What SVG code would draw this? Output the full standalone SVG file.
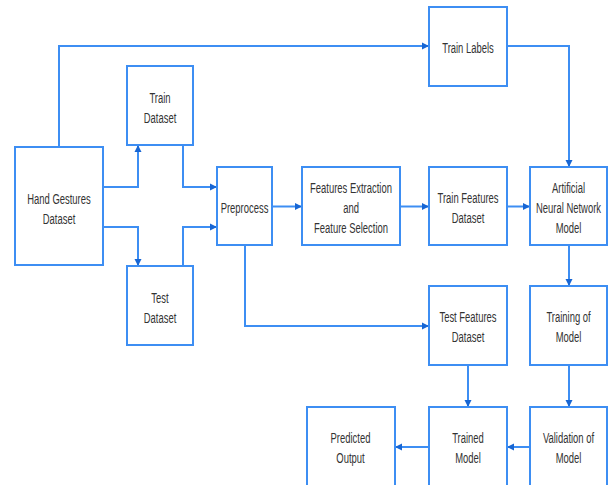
<svg xmlns="http://www.w3.org/2000/svg" width="611" height="485" viewBox="0 0 611 485">
<style>
.box{fill:#fff;stroke:#3d8ef3;stroke-width:2}
.lbl{font-family:"Liberation Sans",Arial,sans-serif;font-size:15px;fill:#333;text-anchor:middle}
.conn{fill:none;stroke:#3d8ef3;stroke-width:2;marker-end:url(#ah)}
</style>
<defs>
<marker id="ah" markerUnits="userSpaceOnUse" markerWidth="8" markerHeight="8" viewBox="0 0 8 8" refX="7" refY="4" orient="auto">
<path d="M0,0.5 L7,4 L0,7.5 Z" fill="#1766d4"/>
</marker>
</defs>
<rect width="611" height="485" fill="#fff"/>
<g id="connectors">
<path class="conn" d="M59,147 V46 H429"/>
<path class="conn" d="M103,187 H138 V145"/>
<path class="conn" d="M103,227 H138 V266"/>
<path class="conn" d="M183,145 V187 H217"/>
<path class="conn" d="M183,266 V227 H217"/>
<path class="conn" d="M272,206.5 H302"/>
<path class="conn" d="M245,245 V326 H429"/>
<path class="conn" d="M400,206.5 H429"/>
<path class="conn" d="M507,206.5 H530"/>
<path class="conn" d="M507,46 H569 V167"/>
<path class="conn" d="M569,245 V286"/>
<path class="conn" d="M569,365 V407"/>
<path class="conn" d="M468,365 V407"/>
<path class="conn" d="M530,447 H507"/>
<path class="conn" d="M429,447 H395"/>
</g>
<g id="hand-gestures">
<rect class="box" x="15" y="147" width="88" height="118"/>
<text class="lbl" transform="translate(59 204) scale(0.63 1)">Hand Gestures</text>
<text class="lbl" transform="translate(59 223.5) scale(0.63 1)">Dataset</text>
</g>
<g id="train-dataset">
<rect class="box" x="127" y="66" width="66" height="79"/>
<text class="lbl" transform="translate(160 102.5) scale(0.63 1)">Train</text>
<text class="lbl" transform="translate(160 122.5) scale(0.63 1)">Dataset</text>
</g>
<g id="test-dataset">
<rect class="box" x="127" y="266" width="66" height="79"/>
<text class="lbl" transform="translate(160 302.5) scale(0.63 1)">Test</text>
<text class="lbl" transform="translate(160 322.5) scale(0.63 1)">Dataset</text>
</g>
<g id="preprocess">
<rect class="box" x="217" y="167" width="55" height="78"/>
<text class="lbl" transform="translate(244.5 213) scale(0.63 1)">Preprocess</text>
</g>
<g id="features-extraction">
<rect class="box" x="302" y="167" width="98" height="78"/>
<text class="lbl" transform="translate(351 193) scale(0.63 1)">Features Extraction</text>
<text class="lbl" transform="translate(351 213) scale(0.63 1)">and</text>
<text class="lbl" transform="translate(351 233) scale(0.63 1)">Feature Selection</text>
</g>
<g id="train-labels">
<rect class="box" x="429" y="7" width="78" height="79"/>
<text class="lbl" transform="translate(468 53) scale(0.63 1)">Train Labels</text>
</g>
<g id="train-features">
<rect class="box" x="429" y="167" width="78" height="78"/>
<text class="lbl" transform="translate(468 203) scale(0.63 1)">Train Features</text>
<text class="lbl" transform="translate(468 223) scale(0.63 1)">Dataset</text>
</g>
<g id="ann-model">
<rect class="box" x="530" y="167" width="77" height="78"/>
<text class="lbl" transform="translate(568.5 193) scale(0.63 1)">Artificial</text>
<text class="lbl" transform="translate(568.5 213) scale(0.63 1)">Neural Network</text>
<text class="lbl" transform="translate(568.5 233) scale(0.63 1)">Model</text>
</g>
<g id="test-features">
<rect class="box" x="429" y="286" width="78" height="79"/>
<text class="lbl" transform="translate(468 322) scale(0.63 1)">Test Features</text>
<text class="lbl" transform="translate(468 342) scale(0.63 1)">Dataset</text>
</g>
<g id="training-of-model">
<rect class="box" x="530" y="286" width="77" height="79"/>
<text class="lbl" transform="translate(568.5 322) scale(0.63 1)">Training of</text>
<text class="lbl" transform="translate(568.5 342) scale(0.63 1)">Model</text>
</g>
<g id="predicted-output">
<rect class="box" x="307" y="407" width="88" height="82"/>
<text class="lbl" transform="translate(350.5 443) scale(0.63 1)">Predicted</text>
<text class="lbl" transform="translate(350.5 463) scale(0.63 1)">Output</text>
</g>
<g id="trained-model">
<rect class="box" x="429" y="407" width="78" height="82"/>
<text class="lbl" transform="translate(468 443) scale(0.63 1)">Trained</text>
<text class="lbl" transform="translate(468 463) scale(0.63 1)">Model</text>
</g>
<g id="validation-of-model">
<rect class="box" x="530" y="407" width="77" height="82"/>
<text class="lbl" transform="translate(568.5 443) scale(0.63 1)">Validation of</text>
<text class="lbl" transform="translate(568.5 463) scale(0.63 1)">Model</text>
</g>
</svg>
